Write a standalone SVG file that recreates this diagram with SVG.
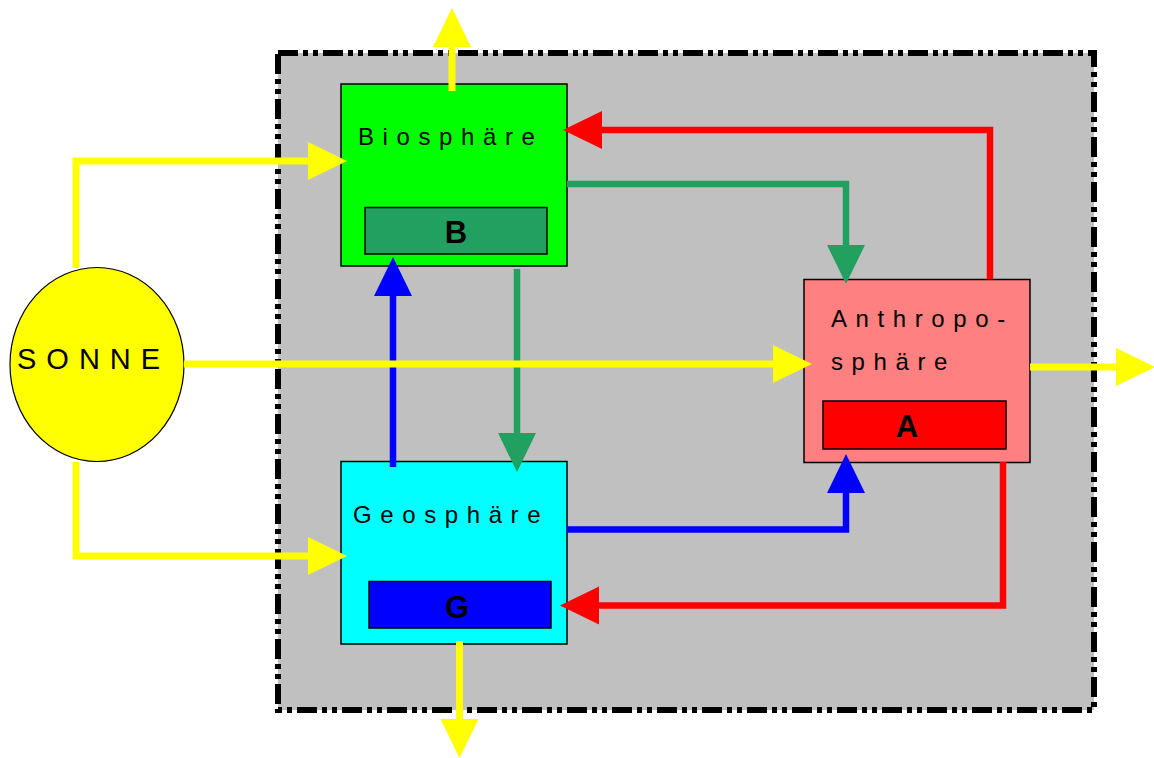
<svg xmlns="http://www.w3.org/2000/svg" width="1154" height="758" viewBox="0 0 1154 758">
<style>
.lbl{font-family:"Liberation Sans",Arial,sans-serif;font-size:24px;letter-spacing:8.6px;fill:#000}
.key{font-family:"Liberation Sans",Arial,sans-serif;font-size:31px;font-weight:bold;fill:#000;text-anchor:middle}
.box{stroke:#000;stroke-width:1.5}
.c{fill:none;stroke-linejoin:miter;stroke-linecap:butt}
.y{stroke:#FFFF00;stroke-width:7;marker-end:url(#ay)}
.r{stroke:#FF0000;stroke-width:6.5;marker-end:url(#ar)}
.g{stroke:#22A060;stroke-width:6.5;marker-end:url(#ag)}
.b{stroke:#0000FF;stroke-width:6.5;marker-end:url(#ab)}
</style>
<defs>
<marker id="ay" markerUnits="userSpaceOnUse" markerWidth="40" markerHeight="40" refX="8" refY="19" orient="auto" overflow="visible"><path d="M0,0 L39,19 L0,38 z" fill="#FFFF00"/></marker>
<marker id="ar" markerUnits="userSpaceOnUse" markerWidth="40" markerHeight="40" refX="8" refY="19" orient="auto" overflow="visible"><path d="M0,0 L39,19 L0,38 z" fill="#FF0000"/></marker>
<marker id="ag" markerUnits="userSpaceOnUse" markerWidth="40" markerHeight="40" refX="8" refY="19" orient="auto" overflow="visible"><path d="M0,0 L39,19 L0,38 z" fill="#22A060"/></marker>
<marker id="ab" markerUnits="userSpaceOnUse" markerWidth="40" markerHeight="40" refX="8" refY="19" orient="auto" overflow="visible"><path d="M0,0 L39,19 L0,38 z" fill="#0000FF"/></marker>
</defs>
<rect width="1154" height="758" fill="#FFFFFF"/>
<g id="system">
<rect x="278" y="53" width="816" height="657" fill="#C0C0C0" stroke="#000" stroke-width="6" stroke-dasharray="20 5 5 5 5 5"/>
</g>
<g id="sonne">
<ellipse cx="97" cy="364.5" rx="87" ry="97" fill="#FFFF00" stroke="#000" stroke-width="1.2"/>
<text x="17" y="369" style="font-family:'Liberation Sans',Arial,sans-serif;font-size:29px;letter-spacing:10px;fill:#000">SONNE</text>
</g>
<g id="biosphaere">
<rect class="box" x="341" y="84" width="226" height="182" fill="#00FF00"/>
<text class="lbl" x="358" y="145">Biosphäre</text>
<rect class="box" x="365" y="207.5" width="182" height="46.5" fill="#22A060"/>
<text class="key" x="456" y="243">B</text>
</g>
<g id="anthroposphaere">
<rect class="box" x="804" y="279.5" width="226" height="183" fill="#FF8080"/>
<text class="lbl" x="831" y="327">Anthropo-</text>
<text class="lbl" x="831" y="370">sphäre</text>
<rect class="box" x="823" y="401" width="183" height="48" fill="#FF0000"/>
<text class="key" x="907" y="437">A</text>
</g>
<g id="geosphaere">
<rect class="box" x="341" y="461.5" width="226" height="182.5" fill="#00FFFF"/>
<text class="lbl" x="353" y="523">Geosphäre</text>
<rect class="box" x="369" y="581.5" width="182" height="46.5" fill="#0000FF"/>
<text class="key" x="457" y="618">G</text>
</g>
<g id="connectors">
<path class="c g" d="M567,184 H846 V253"/>
<path class="c g" d="M517,269 V441"/>
<path class="c b" d="M393,467 V288"/>
<path class="c b" d="M567,529.5 H846 V485"/>
<path class="c r" d="M990,279 V130 H594"/>
<path class="c r" d="M1003,462 V605.5 H591"/>
<path class="c y" d="M76,268 V161 H316"/>
<path class="c y" d="M76,462 V556 H316"/>
<path class="c y" d="M184,364 H781"/>
<path class="c y" d="M452,91 V39"/>
<path class="c y" d="M1030,367 H1124"/>
<path class="c y" d="M459.5,641 V727"/>
</g>
</svg>
